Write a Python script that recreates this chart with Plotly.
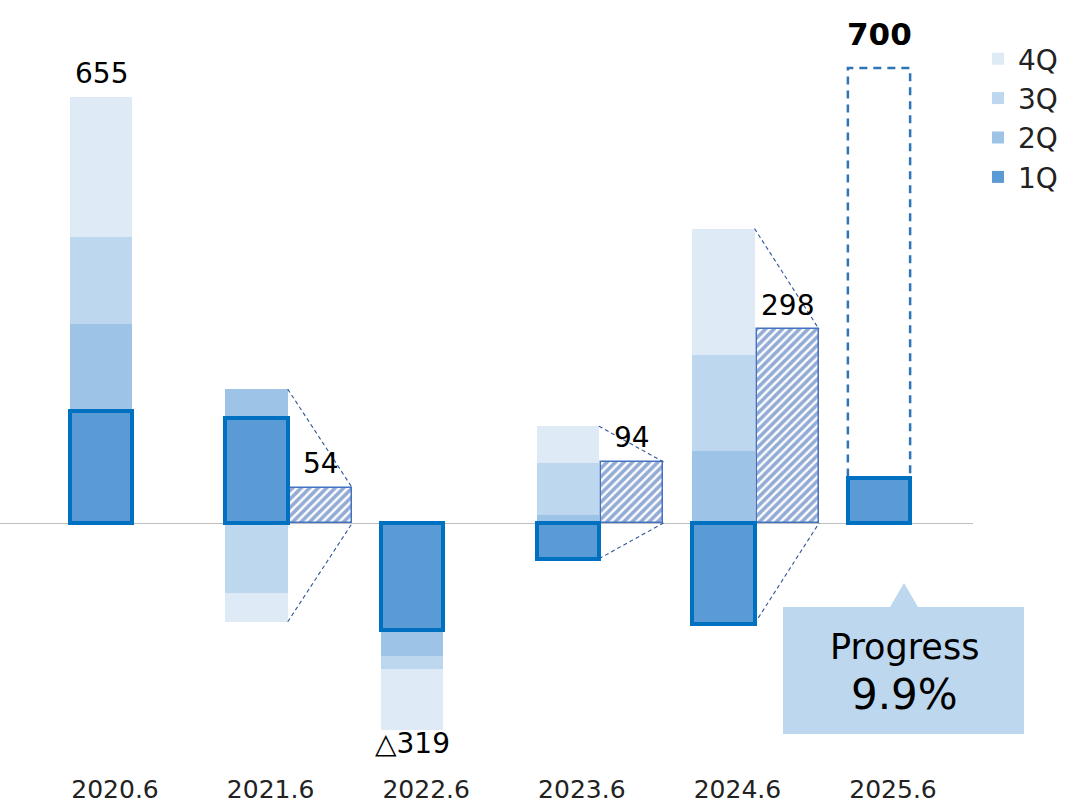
import plotly.graph_objects as go

# ---------------- data ----------------
categories = ["2020.6", "2021.6", "2022.6", "2023.6", "2024.6", "2025.6"]
q1 = [172, 162, -164, -55, -155, 69]
q2 = [134, 44, -41, 12, 111, None]
q3 = [134, -108, -19, 81, 147, None]
q4 = [215, -44, -95, 56, 195, None]
totals = [655, 54, -319, 94, 298, None]
hatched_idx = [1, 3, 4]          # years that show a net-total hatched bar
plan_value = 700                 # 2025.6 full-year plan
quarter_names = ["1Q", "2Q", "3Q", "4Q"]
quarter_colors = ["#5B9BD5", "#9DC3E6", "#BDD7EE", "#DEEBF7"]

# ---------------- geometry / style ----------------
W, H = 1086, 808
FONT = "DejaVu Sans"
BAR_W = 0.40
HATCH_OFF = 0.415
PLOT_RIGHT_PX = 973
PLOT_BOTTOM_PX = 772
ZERO_PX = 523
PX_PER_UNIT = 0.65
BAR0_PX = 101
SPACING_PX = 155.6

x_min = -BAR0_PX / SPACING_PX
x_max = x_min + PLOT_RIGHT_PX / SPACING_PX
y_max = ZERO_PX / PX_PER_UNIT
y_min = -(PLOT_BOTTOM_PX - ZERO_PX) / PX_PER_UNIT

xs = list(range(len(categories)))

fig = go.Figure()

# stacked quarters
series = [q1, q2, q3, q4]
for name, vals, col in zip(quarter_names, series, quarter_colors):
    fig.add_trace(go.Bar(
        x=xs, y=vals, name=name, width=BAR_W,
        marker=dict(color=col, line=dict(width=0)),
        hoverinfo="skip",
    ))

# hatched net-total bars
hx = [i + HATCH_OFF for i in hatched_idx]
hy = [totals[i] for i in hatched_idx]
fig.add_trace(go.Bar(
    x=hx, y=hy, width=BAR_W, showlegend=False,
    marker=dict(color="white",
                line=dict(color="#4472C4", width=1.5),
                pattern=dict(shape="/", fgcolor="#2859AD", bgcolor="white",
                             size=6, solidity=0.6)),
    hoverinfo="skip",
))

# 1Q thick outline on an overlaid axis (drawn above the stack)
fig.add_trace(go.Bar(
    x=xs, y=q1, width=BAR_W, showlegend=False,
    marker=dict(color="rgba(0,0,0,0)", line=dict(color="#0070C0", width=4)),
    xaxis="x2", yaxis="y2", hoverinfo="skip",
))

# dashed connector lines
for i in hatched_idx:
    vals = [s[i] for s in series if s[i] is not None]
    pos_sum = sum(v for v in vals if v > 0)
    neg_sum = sum(v for v in vals if v < 0)
    xr_stack = i + BAR_W / 2
    xr_hatch = i + HATCH_OFF + BAR_W / 2
    for ys in ([pos_sum, totals[i]], [neg_sum, 0]):
        fig.add_trace(go.Scatter(
            x=[xr_stack, xr_hatch], y=ys, mode="lines", showlegend=False,
            line=dict(color="#2F5597", width=1.1, dash="4px,3px"),
            hoverinfo="skip",
        ))

# dashed plan box for 2025.6
plan_i = len(categories) - 1
fig.add_shape(type="rect", xref="x", yref="y",
              x0=plan_i - BAR_W / 2, x1=plan_i + BAR_W / 2, y0=0, y1=plan_value,
              line=dict(color="#2E75B6", width=2.5, dash="8px,6px"),
              fillcolor="rgba(0,0,0,0)", layer="below")

# total labels
def fmt(v):
    return ("△" + str(abs(v))) if v < 0 else str(v)

for i, t in enumerate(totals):
    if t is None:
        continue
    xpos = i + HATCH_OFF if i in hatched_idx else i
    fig.add_annotation(x=xpos, y=t, text=fmt(t), showarrow=False,
                       xref="x", yref="y", xanchor="center", yanchor="middle",
                       yshift=24 if t > 0 else -13,
                       font=dict(family=FONT, size=28, color="#000"))

fig.add_annotation(x=plan_i, y=plan_value, text="<b>%d</b>" % plan_value,
                   showarrow=False, xref="x", yref="y", xanchor="center",
                   yanchor="middle", yshift=34,
                   font=dict(family=FONT, size=31, color="#000"))

# progress callout (paper coords)
def px(x):
    return x / PLOT_RIGHT_PX

def py(y):
    return 1 - y / PLOT_BOTTOM_PX

path = ("M {0},{1} L {2},{1} L {3},{4} L {5},{1} L {6},{1} L {6},{7} L {0},{7} Z"
        .format(px(783), py(607), px(890), px(904), py(583), px(918), px(1024), py(734)))
fig.add_shape(type="path", xref="paper", yref="paper", path=path,
              fillcolor="#BDD7EE", line=dict(width=0), layer="above")

progress = q1[plan_i] / plan_value * 100
fig.add_annotation(x=px(904), y=py(647), xref="paper", yref="paper",
                   text="Progress", showarrow=False, xanchor="center", yanchor="middle",
                   font=dict(family=FONT, size=35, color="#000"))
fig.add_annotation(x=px(904), y=py(694), xref="paper", yref="paper",
                   text="%.1f%%" % progress, showarrow=False, xanchor="center",
                   yanchor="middle",
                   font=dict(family=FONT, size=42, color="#000"))

fig.update_layout(
    width=W, height=H,
    margin=dict(l=0, r=W - PLOT_RIGHT_PX, t=0, b=H - PLOT_BOTTOM_PX, autoexpand=False),
    barmode="relative", bargap=0,
    plot_bgcolor="white", paper_bgcolor="white",
    xaxis=dict(range=[x_min, x_max], tickvals=[i + 0.09 for i in xs],
               ticktext=categories, showgrid=False, zeroline=False, showline=False,
               ticks="", tickfont=dict(family=FONT, size=25, color="#222")),
    yaxis=dict(range=[y_min, y_max], showgrid=False, showticklabels=False,
               zeroline=True, zerolinecolor="#BFBFBF", zerolinewidth=1, showline=False),
    xaxis2=dict(range=[x_min, x_max], overlaying="x", visible=False),
    yaxis2=dict(range=[y_min, y_max], overlaying="y", visible=False),
    legend=dict(x=px(978), y=py(34), xanchor="left", yanchor="top",
                traceorder="reversed", font=dict(family=FONT, size=28, color="#222"),
                itemclick=False, bgcolor="rgba(0,0,0,0)", tracegroupgap=0),
    showlegend=True,
)

fig.write_html("out.html")
